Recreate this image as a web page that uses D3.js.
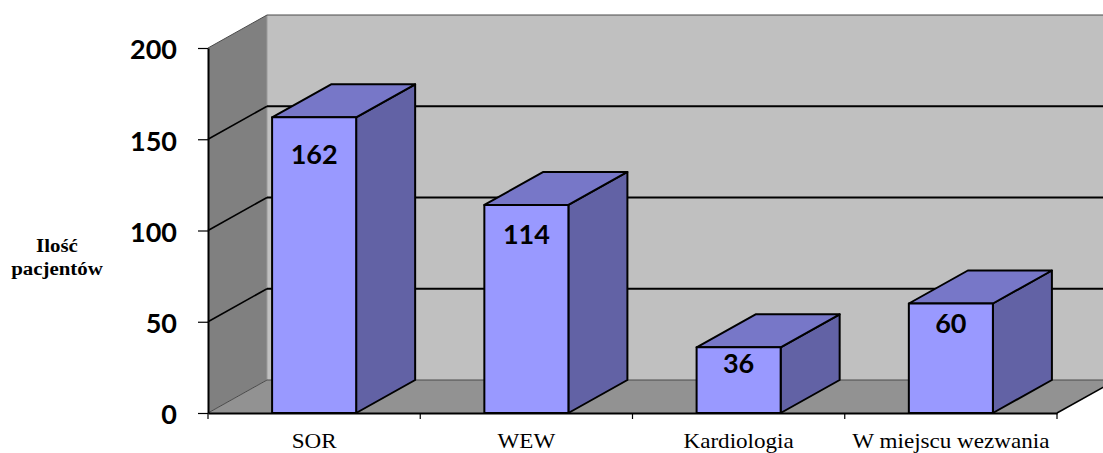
<!DOCTYPE html>
<html>
<head>
<meta charset="utf-8">
<script src="https://cdn.jsdelivr.net/npm/d3@7/dist/d3.min.js"></script>
<style>
  html, body { margin: 0; padding: 0; background: #ffffff; }
  svg { display: block; }
</style>
</head>
<body>
<svg id="chart" width="1103" height="453"></svg>
<script>
// Patients by destination after the intervention
const categories = ["SOR", "WEW", "Kardiologia", "W miejscu wezwania"];
const patients = [162, 114, 36, 60];
const yTicks = [0, 50, 100, 150, 200];
const yTitle = ["Ilość", "pacjentów"];

const svg = d3.select("#chart");

// Front plane of the 3D plot box
const x = d3.scaleBand().domain(categories).range([208, 1057]).padding(0);
const y = d3.scaleLinear().domain([0, 200]).range([413, 48]);

// Depth offset of the box (oblique projection)
const DX = 59, DY = -33;

const colors = {
  backWall: "#c0c0c0",
  sideWall: "#808080",
  floor: "#929292",
  front: "#9999ff",
  top: "#7777c8",
  side: "#6262a5"
};

const x0 = x.range()[0], x1 = x.range()[1];
const yb = y(0), yt = y(200);
const pts = a => a.map(p => p.join(",")).join(" ");

// Back wall
svg.append("polygon")
  .attr("points", pts([[x0 + DX, yt + DY], [x1 + DX, yt + DY], [x1 + DX, yb + DY], [x0 + DX, yb + DY]]))
  .attr("fill", colors.backWall);

// Left side wall
svg.append("polygon")
  .attr("points", pts([[x0, yt], [x0 + DX, yt + DY], [x0 + DX, yb + DY], [x0, yb]]))
  .attr("fill", colors.sideWall);

// Floor
svg.append("polygon")
  .attr("points", pts([[x0, yb], [x0 + DX, yb + DY], [x1 + DX, yb + DY], [x1, yb]]))
  .attr("fill", colors.floor);

// Edge where the side wall meets the back wall
svg.append("line")
  .attr("x1", x0 + DX).attr("x2", x0 + DX)
  .attr("y1", yt + DY).attr("y2", yb + DY)
  .attr("stroke", "#9a9a9a").attr("stroke-width", 1);

// Gridlines on the back wall and side wall
const grid = svg.append("g");
yTicks.forEach(t => {
  const gy = y(t);
  const edge = (t === 0 || t === 200);
  const col = edge ? "#4a4a4a" : "#000000";
  const sw = edge ? 1.2 : 2;
  grid.append("line")
    .attr("x1", x0 + DX).attr("x2", x1 + DX)
    .attr("y1", gy + DY).attr("y2", gy + DY)
    .attr("stroke", col).attr("stroke-width", sw);
  grid.append("line")
    .attr("x1", x0).attr("x2", x0 + DX)
    .attr("y1", gy).attr("y2", gy + DY)
    .attr("stroke", col).attr("stroke-width", edge ? 1 : 1.6);
});

// Bars
const barW = x.bandwidth() * 0.396;
const data = categories.map((c, i) => ({ c, v: patients[i] }));
const bars = svg.append("g").selectAll("g").data(data).join("g");

bars.each(function (d) {
  const g = d3.select(this);
  const bx = x(d.c) + (x.bandwidth() - barW) / 2;
  const by = y(d.v);
  const face = (p, fill) => g.append("polygon")
    .attr("points", pts(p)).attr("fill", fill)
    .attr("stroke", "#000").attr("stroke-width", 2).attr("stroke-linejoin", "round");
  // side face
  face([[bx + barW, by], [bx + barW + DX, by + DY], [bx + barW + DX, yb + DY], [bx + barW, yb]], colors.side);
  // top face
  face([[bx, by], [bx + DX, by + DY], [bx + barW + DX, by + DY], [bx + barW, by]], colors.top);
  // front face
  face([[bx, by], [bx + barW, by], [bx + barW, yb], [bx, yb]], colors.front);

  // value label
  g.append("text")
    .attr("x", bx + barW / 2)
    .attr("y", by + 20 + 0.09 * (yb - by))
    .attr("text-anchor", "middle")
    .attr("font-family", "Lato, 'Open Sans', sans-serif")
    .attr("font-weight", "bold")
    .attr("font-size", 27)
    .attr("fill", "#000")
    .text(d.v);
});

// Y axis
const yAxis = svg.append("g")
  .attr("transform", `translate(${x0},0)`)
  .call(d3.axisLeft(y).tickValues(yTicks).tickSize(10).tickPadding(21).tickSizeOuter(0));
yAxis.select(".domain").attr("stroke", "#000").attr("stroke-width", 2);
yAxis.selectAll(".tick line").attr("stroke", "#000").attr("stroke-width", 1.2);
yAxis.selectAll(".tick text")
  .attr("font-family", "Lato, 'Open Sans', sans-serif")
  .attr("font-weight", "bold")
  .attr("font-size", 27)
  .attr("fill", "#000")
  .attr("dy", "0.4em");

// X axis: category labels
const xAxis = svg.append("g")
  .attr("transform", `translate(0,${yb})`)
  .call(d3.axisBottom(x).tickSize(0).tickPadding(19).tickSizeOuter(0));
xAxis.select(".domain").attr("stroke", "#000").attr("stroke-width", 2);
xAxis.selectAll(".tick text")
  .attr("font-family", "'Liberation Serif', 'Times New Roman', serif")
  .attr("font-size", 22)
  .attr("fill", "#000")
  .attr("transform", "scale(1.05,1)");

// Category boundary ticks along the front floor edge
const bounds = categories.map(c => x(c)).concat([x1]);
svg.append("g").selectAll("line").data(bounds).join("line")
  .attr("x1", d => d).attr("x2", d => d)
  .attr("y1", yb).attr("y2", yb + 6)
  .attr("stroke", "#000").attr("stroke-width", 1.2);

// Right edge of the floor
svg.append("line")
  .attr("x1", x1).attr("y1", yb)
  .attr("x2", x1 + DX).attr("y2", yb + DY)
  .attr("stroke", "#000").attr("stroke-width", 1.5);

// Axis title
svg.append("g")
  .attr("transform", "translate(57,0) scale(1.1,1)")
  .append("text")
  .attr("text-anchor", "middle")
  .attr("font-family", "'Liberation Serif', 'Times New Roman', serif")
  .attr("font-weight", "bold")
  .attr("font-size", 19)
  .attr("fill", "#000")
  .selectAll("tspan").data(yTitle).join("tspan")
  .attr("x", 0)
  .attr("y", (d, i) => 252 + i * 23)
  .text(d => d);
</script>
</body>
</html>
